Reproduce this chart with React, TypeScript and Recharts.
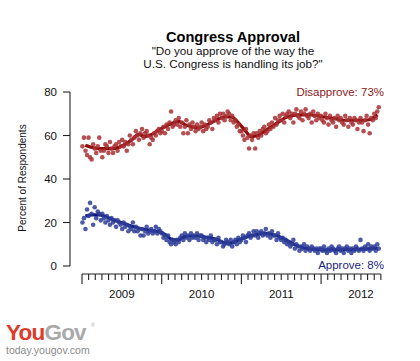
import React from 'react';
import {
  ComposedChart,
  Scatter,
  Line,
  XAxis,
  YAxis,
  ReferenceLine,
} from 'recharts';

const FONT = '"Liberation Sans", Arial, Helvetica, sans-serif';

// Weekly poll results, first poll on 3 Jan 2009, one per week
const DISAPPROVE_2009 = [
  55, 59, 53, 51, 59, 50, 49, 56, 54, 52, 55, 59, 53,
  50, 53, 56, 55, 52, 57, 54, 52, 55, 56, 53, 57, 55,
  58, 55, 57, 53, 56, 60, 58, 56, 59, 62, 60, 58, 61,
  63, 59, 61, 62, 60, 56, 59, 58, 61, 60, 62, 63, 61,
];
const DISAPPROVE_2010 = [
  62, 64, 61, 65, 63, 66, 71, 64, 65, 67, 65, 68, 64,
  66, 61, 64, 67, 61, 65, 63, 66, 64, 62, 65, 63, 64,
  66, 62, 65, 63, 64, 67, 66, 63, 68, 67, 69, 66, 70,
  68, 70, 67, 69, 71, 70, 67, 69, 66, 67, 64, 65, 62,
];
const DISAPPROVE_2011 = [
  62, 60, 58, 63, 59, 54, 60, 58, 61, 54, 61, 59, 62,
  60, 63, 64, 61, 62, 65, 63, 66, 64, 68, 65, 67, 69,
  67, 70, 66, 69, 70, 71, 68, 70, 66, 70, 72, 69, 68,
  71, 67, 70, 72, 69, 68, 70, 66, 71, 69, 67, 70, 68,
];
const DISAPPROVE_2012 = [
  69, 67, 66, 70, 68, 65, 69, 67, 66, 68, 64, 69, 67,
  68, 66, 65, 69, 67, 64, 68, 66, 65, 68, 67, 63, 66,
  68, 66, 62, 67, 69, 65, 61, 68, 67, 70, 68, 71, 73,
];

const APPROVE_2009 = [
  20, 22, 17, 26, 23, 29, 24, 19, 27, 22, 25, 24, 21,
  24, 22, 20, 23, 21, 19, 22, 20, 21, 18, 21, 20, 19,
  17, 20, 18, 19, 16, 18, 17, 20, 16, 18, 16, 17, 14,
  17, 14, 16, 18, 15, 16, 17, 15, 16, 18, 15, 17, 16,
];
const APPROVE_2010 = [
  15, 13, 14, 12, 14, 11, 10, 12, 11, 10, 12, 11, 13,
  14, 12, 15, 13, 14, 12, 15, 13, 14, 13, 15, 12, 14,
  14, 12, 13, 11, 13, 12, 14, 11, 12, 12, 10, 13, 11,
  11, 9, 10, 12, 11, 10, 12, 9, 11, 12, 10, 13, 11,
];
const APPROVE_2011 = [
  12, 14, 13, 11, 14, 15, 13, 14, 16, 14, 16, 13, 15,
  16, 14, 15, 17, 14, 15, 13, 16, 14, 14, 12, 15, 13,
  12, 13, 11, 12, 10, 11, 9, 10, 12, 8, 10, 9, 7,
  9, 8, 10, 7, 9, 8, 7, 9, 8, 7, 8, 6, 8,
];
const APPROVE_2012 = [
  8, 7, 9, 7, 6, 8, 7, 9, 8, 7, 6, 8, 9,
  7, 8, 6, 8, 9, 7, 8, 6, 8, 7, 9, 8, 7,
  12, 8, 7, 9, 8, 10, 7, 9, 8, 9, 7, 10, 8,
];

// Smoothed trend, one value per month, Jan 2009 .. Sep 2012
const DISAPPROVE_TREND = [
  55.5, 54.5, 54, 54, 54, 54.5, 56, 58, 60.5, 59.5, 60.5, 62.5,
  64, 65.5, 66.5, 65, 64, 63.5, 64.5, 66, 67.5, 68.5, 68.5, 66,
  62.5, 59.5, 60, 62, 64, 66, 68, 69, 69.5, 69.5, 69.5, 69,
  68.5, 68, 67.5, 67, 67, 67, 67, 67.5, 69.5,
];
const APPROVE_TREND = [
  23, 23.5, 23.5, 22.8, 21.5, 20.3, 19.3, 18.3, 17.5, 16.8, 16.3, 15.8,
  14.5, 12.3, 12, 13.5, 13.8, 13.8, 13.3, 12.8, 12, 10.6, 10.5, 12,
  13, 14, 14.6, 15, 14.6, 13.8, 12.3, 10.7, 9.2, 8.3, 7.8, 7.5,
  7.4, 7.4, 7.4, 7.5, 7.5, 7.6, 7.8, 8, 8.2,
];

const YEAR_LABELS = ['2009', '2010', '2011', '2012'];
const Y_TICKS = [0, 20, 40, 60, 80];

const DISAPPROVE = [...DISAPPROVE_2009, ...DISAPPROVE_2010, ...DISAPPROVE_2011, ...DISAPPROVE_2012];
const APPROVE = [...APPROVE_2009, ...APPROVE_2010, ...APPROVE_2011, ...APPROVE_2012];

// decimal year of the i-th weekly poll
const weekYear = (i: number) => {
  const d = Date.UTC(2009, 0, 3 + 7 * i);
  const y = new Date(d).getUTCFullYear();
  const start = Date.UTC(y, 0, 1);
  const end = Date.UTC(y + 1, 0, 1);
  return y + (d - start) / (end - start);
};

const toPoints = (vals: number[]) => vals.map((v, i) => ({ x: weekYear(i), v }));
const toTrend = (vals: number[]) => vals.map((v, m) => ({ x: 2009 + (m + 0.5) / 12, v }));

const disapprovePts = toPoints(DISAPPROVE);
const approvePts = toPoints(APPROVE);
const disapproveTrend = toTrend(DISAPPROVE_TREND);
const approveTrend = toTrend(APPROVE_TREND);

// monthly ticks, Jan 2009 .. Oct 2012
const MONTH_TICKS = Array.from({ length: 46 }, (_, i) => 2009 + i / 12);

const X_MIN = 2008.8494;
const X_MAX = 2012.9022;
const Y_MIN = -3.678;
const Y_MAX = 83.218;

const RED_DOT = '#a83034';
const RED_LINE = '#8b0a0a';
const BLUE_DOT = '#2e3d98';
const BLUE_LINE = '#0c1880';

const MonthTick = (props: any) => {
  const { x, y, payload } = props;
  const idx = Math.round((payload.value - 2009) * 12);
  const major = idx % 12 === 0;
  const label = idx % 12 === 6 ? YEAR_LABELS[Math.floor(idx / 12)] : null;
  return (
    <g>
      <line x1={x} x2={x} y1={y} y2={y + (major ? 10 : 6)} stroke="#222" strokeWidth={1.1} />
      {label && (
        <text x={x} y={y + 23.5} textAnchor="middle" fontSize={11.5} fill="#111" fontFamily={FONT}>
          {label}
        </text>
      )}
    </g>
  );
};

const dot = (color: string) => (p: any) => (
  <circle cx={p.cx} cy={p.cy} r={2.3} fill={color} fillOpacity={0.85} />
);

export default function App() {
  return (
    <div style={{ position: 'absolute', left: 0, top: 0, width: 420, height: 361, background: '#fff' }}>
      <ComposedChart
        width={420}
        height={361}
        margin={{ top: 85, right: 27, bottom: 47, left: 30 }}
      >
        <XAxis
          dataKey="x"
          type="number"
          domain={[X_MIN, X_MAX]}
          allowDataOverflow
          ticks={MONTH_TICKS}
          interval={0}
          tick={<MonthTick />}
          tickLine={false}
          axisLine={false}
          tickSize={0}
          tickMargin={0}
          height={40}
        />
        <YAxis
          dataKey="v"
          type="number"
          domain={[Y_MIN, Y_MAX]}
          allowDataOverflow
          ticks={Y_TICKS}
          interval={0}
          width={40}
          tickSize={7}
          tickMargin={6}
          axisLine={false}
          tickLine={{ stroke: '#222', strokeWidth: 1.1 }}
          tick={{ fontSize: 11.5, fill: '#111', fontFamily: FONT }}
        />
        <ReferenceLine
          segment={[{ x: X_MIN, y: 0 }, { x: X_MIN, y: 80 }]}
          stroke="#222"
          strokeWidth={1.1}
          ifOverflow="visible"
        />
        <ReferenceLine
          segment={[{ x: 2009, y: Y_MIN }, { x: 2012.75, y: Y_MIN }]}
          stroke="#222"
          strokeWidth={1.1}
          ifOverflow="visible"
        />
        <Scatter data={disapprovePts} dataKey="v" shape={dot(RED_DOT)} isAnimationActive={false} />
        <Scatter data={approvePts} dataKey="v" shape={dot(BLUE_DOT)} isAnimationActive={false} />
        <Line
          data={disapproveTrend}
          dataKey="v"
          type="monotone"
          stroke={RED_LINE}
          strokeWidth={3.2}
          dot={false}
          activeDot={false}
          isAnimationActive={false}
        />
        <Line
          data={approveTrend}
          dataKey="v"
          type="monotone"
          stroke={BLUE_LINE}
          strokeWidth={3.2}
          dot={false}
          activeDot={false}
          isAnimationActive={false}
        />
      </ComposedChart>
      <svg
        width={420}
        height={361}
        style={{ position: 'absolute', left: 0, top: 0, pointerEvents: 'none' }}
        fontFamily={FONT}
      >
        <text x={233} y={42} textAnchor="middle" fontSize={14.6} fontWeight="bold" fill="#000">
          Congress Approval
        </text>
        <text x={233} y={55} textAnchor="middle" fontSize={11.7} fill="#111">
          "Do you approve of the way the
        </text>
        <text x={233} y={67.5} textAnchor="middle" fontSize={11.7} fill="#111">
          U.S. Congress is handling its job?"
        </text>
        <text x={384} y={95.5} textAnchor="end" fontSize={11.5} fill="#8b1a1a">
          Disapprove: 73%
        </text>
        <text x={384} y={269} textAnchor="end" fontSize={11.5} fill="#1a237e">
          Approve: 8%
        </text>
        <text
          transform="translate(25.5,178) rotate(-90)"
          textAnchor="middle"
          fontSize={10}
          fill="#111"
        >
          Percent of Respondents
        </text>
        <text x={6} y={340} fontSize={22.5} fontWeight="bold" letterSpacing={-0.8}>
          <tspan fill="#e03a2a">You</tspan>
          <tspan fill="#a9a9a9">Gov</tspan>
        </text>
        <text x={91} y={327} fontSize={5} fill="#a9a9a9">®</text>
        <text x={6} y={354} fontSize={10.5} fill="#8a8a8a">
          today.yougov.com
        </text>
      </svg>
    </div>
  );
}
